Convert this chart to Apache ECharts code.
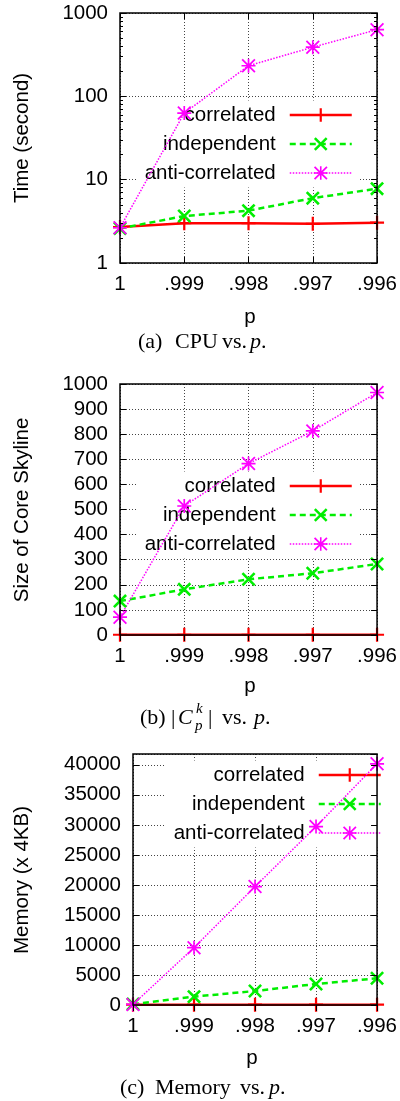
<!DOCTYPE html>
<html>
<head>
<meta charset="utf-8">
<script src="https://cdn.jsdelivr.net/npm/echarts@6/dist/echarts.min.js"></script>
<style>
  html, body { margin: 0; padding: 0; background: #fff; }
  #chart { width: 400px; height: 1101px; }
</style>
</head>
<body>
<div id="chart"></div>
<script>
// Categories: skyline probability threshold p
const pLabels = ['1', '.999', '.998', '.997', '.996'];
const seriesNames = ['correlated', 'independent', 'anti-correlated'];

// (a) CPU time (seconds, log scale)
const cpuCorrelated = [2.7, 3.0, 3.0, 2.95, 3.05];
const cpuIndependent = [2.6, 3.66, 4.25, 6.0, 7.8];
const cpuAntiCorrelated = [2.65, 63, 233, 389, 631];
const cpuMinorTicks = [2, 3, 4, 5, 6, 7, 8, 9, 20, 30, 40, 50, 60, 70, 80, 90, 200, 300, 400, 500, 600, 700, 800, 900];

// (b) size of the core skyline
const coreCorrelated = [1, 1, 1, 1, 1];
const coreIndependent = [135, 182, 222, 246, 283];
const coreAntiCorrelated = [71, 514, 683, 813, 966];

// (c) memory (x 4KB)
const memCorrelated = [60, 60, 60, 60, 60];
const memIndependent = [150, 1390, 2330, 3500, 4450];
const memAntiCorrelated = [100, 9550, 19720, 29720, 40170];

const SANS = '"Liberation Sans", Arial, Helvetica, sans-serif';
const SERIF = '"Liberation Serif", "Times New Roman", serif';
const FS = 20.5;

// gnuplot-like point shapes
const PLUS = 'path://M42,0H58V42H100V58H58V100H42V58H0V42H42Z';
const CROSS = 'path://M0,13L13,0L50,37L87,0L100,13L63,50L100,87L87,100L50,63L13,100L0,87L37,50Z';
const STAR = 'path://M44,0H56V44H100V56H56V100H44V56H0V44H44Z M0,9L9,0L50,41L91,0L100,9L59,50L100,91L91,100L50,59L9,100L0,91L41,50Z';

const seriesStyle = {
  'correlated': { color: '#ff0000', symbol: PLUS, lineStyle: { width: 2.5, type: 'solid' } },
  'independent': { color: '#00ee00', symbol: CROSS, lineStyle: { width: 2.5, type: [6, 4] } },
  'anti-correlated': { color: '#ff00ff', symbol: STAR, lineStyle: { width: 1.5, type: [1.5, 1.5] } }
};

const grids = [
  { left: 120, top: 13, width: 259, height: 250 },
  { left: 120, top: 384, width: 259, height: 251 },
  { left: 133, top: 754, width: 246, height: 251 }
];

const tickLine = { color: '#000', width: 1 };
const gridLine = { color: '#444', width: 1, type: [1, 2] };
const plainNumber = v => String(v);

function bottomX(gi) {
  return {
    type: 'category', gridIndex: gi, data: pLabels, boundaryGap: false, position: 'bottom',
    axisLine: { show: false },
    axisTick: { show: true, inside: true, length: 6, lineStyle: tickLine },
    axisLabel: { color: '#000', fontSize: FS, fontFamily: SANS, margin: 11, interval: 0 },
    splitLine: { show: true, lineStyle: gridLine }
  };
}
function topX(gi) {
  return {
    type: 'category', gridIndex: gi, data: pLabels, boundaryGap: false, position: 'top', z: 3,
    axisLine: { show: false },
    axisTick: { show: true, inside: true, length: 6, lineStyle: tickLine },
    axisLabel: { show: false },
    splitLine: { show: false }
  };
}
function leftY(gi, extra, labelExtra) {
  return Object.assign({
    gridIndex: gi, position: 'left',
    axisLine: { show: false },
    axisTick: { show: true, inside: true, length: 6, lineStyle: tickLine },
    axisLabel: Object.assign({ color: '#000', fontSize: FS, fontFamily: SANS, margin: 12, formatter: plainNumber }, labelExtra || {}),
    splitLine: { show: true, lineStyle: gridLine }
  }, extra);
}
function rightY(gi, extra) {
  return Object.assign({
    gridIndex: gi, position: 'right', z: 3,
    axisLine: { show: false },
    axisTick: { show: true, inside: true, length: 6, lineStyle: tickLine },
    axisLabel: { show: false },
    splitLine: { show: false }
  }, extra);
}
function minorY(gi, pos) {
  return {
    type: 'log', logBase: 10, min: 1, max: 1000, gridIndex: gi, position: pos, z: 3,
    axisLine: { show: false },
    axisTick: { show: true, inside: true, length: 3, lineStyle: tickLine, customValues: cpuMinorTicks },
    axisLabel: { show: false },
    splitLine: { show: false }
  };
}

const cpuScale = { type: 'log', logBase: 10, min: 1, max: 1000 };
const coreScale = { type: 'value', min: 0, max: 1000, interval: 100 };
const memScale = { type: 'value', min: 0, max: 41800, interval: 5000 };

const xAxes = [bottomX(0), topX(0), bottomX(1), topX(1), bottomX(2), topX(2)];
const yAxes = [
  leftY(0, cpuScale), rightY(0, cpuScale), minorY(0, 'left'), minorY(0, 'right'),
  leftY(1, coreScale), rightY(1, coreScale),
  leftY(2, memScale, { showMaxLabel: false }), rightY(2, memScale)
];

function line(name, data, xi, yi) {
  const s = seriesStyle[name];
  return {
    type: 'line', name: name, data: data, xAxisIndex: xi, yAxisIndex: yi,
    symbol: s.symbol, symbolSize: 14, showSymbol: true, showAllSymbol: true,
    itemStyle: { color: s.color },
    lineStyle: Object.assign({ color: s.color }, s.lineStyle),
    emphasis: { disabled: true }, silent: true, z: 2
  };
}

const series = [
  line('correlated', cpuCorrelated, 0, 0),
  line('independent', cpuIndependent, 0, 0),
  line('anti-correlated', cpuAntiCorrelated, 0, 0),
  line('correlated', coreCorrelated, 2, 4),
  line('independent', coreIndependent, 2, 4),
  line('anti-correlated', coreAntiCorrelated, 2, 4),
  line('correlated', memCorrelated, 4, 6),
  line('independent', memIndependent, 4, 6),
  line('anti-correlated', memAntiCorrelated, 4, 6)
];

function legend(right, top) {
  return {
    orient: 'vertical', align: 'right', right: right, top: top,
    data: seriesNames, selectedMode: false,
    itemWidth: 62, itemHeight: 17, itemGap: 8,
    padding: [4, 6, 4, 8], backgroundColor: '#fff', z: 1,
    lineStyle: { width: 'inherit' },
    textStyle: { color: '#000', fontSize: FS, fontFamily: SANS, lineHeight: 17, padding: [0, 9, 0, 0] }
  };
}

function txt(x, y, text, opts) {
  return {
    type: 'text', x: x, y: y, z: 10, silent: true,
    rotation: (opts && opts.rotation) || 0,
    style: Object.assign({
      text: text, fill: '#000', font: FS + 'px ' + SANS,
      align: 'center', verticalAlign: 'middle'
    }, (opts && opts.style) || {})
  };
}
const capFont = '22px ' + SERIF;
const capItalic = 'italic 22px ' + SERIF;
const subItalic = 'italic 15px ' + SERIF;
const cap = (x, y, t, font) => txt(x, y, t, { style: { font: font || capFont, align: 'left' } });
const yName = (x, y, t) => txt(x, y, t, { rotation: Math.PI / 2 });

const graphic = [
  yName(22, 138, 'Time (second)'),
  yName(22, 510, 'Size of Core Skyline'),
  yName(22, 880, 'Memory (x 4KB)'),
  txt(250, 317, 'p'),
  txt(250, 686, 'p'),
  txt(252, 1058, 'p'),
  // captions
  cap(138, 342, '(a)'), cap(175, 342, 'CPU'), cap(222, 342, 'vs.'),
  cap(250, 342, 'p', capItalic), cap(261, 342, '.'),
  cap(140, 718, '(b)'), cap(171, 718, '|'), cap(178, 718, 'C', capItalic),
  cap(196, 709, 'k', subItalic), cap(195, 726, 'p', subItalic),
  cap(208, 718, '|'), cap(222, 718, 'vs.'), cap(254, 718, 'p', capItalic), cap(265, 718, '.'),
  cap(120, 1088, '(c)'), cap(155, 1088, 'Memory'), cap(240, 1088, 'vs.'),
  cap(269, 1088, 'p', capItalic), cap(280, 1088, '.')
];

const chart = echarts.init(document.getElementById('chart'), null, { renderer: 'canvas' });
chart.setOption({
  backgroundColor: '#fff',
  animation: false,
  grid: grids.map(g => Object.assign({ show: true, borderColor: '#000', borderWidth: 1.5, backgroundColor: 'transparent', z: 3 }, g)),
  xAxis: xAxes,
  yAxis: yAxes,
  legend: [legend(41, 100.5), legend(41, 471.5), legend(12, 760.5)],
  series: series,
  graphic: graphic
});
</script>
</body>
</html>
